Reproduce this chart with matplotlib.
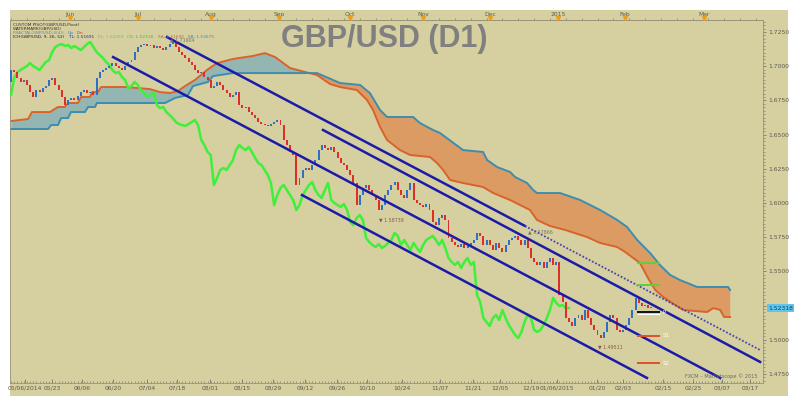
import numpy as np
import matplotlib
matplotlib.use("Agg")
import matplotlib.pyplot as plt
from matplotlib.patches import Rectangle
from matplotlib.transforms import blended_transform_factory

# daily GBP/USD closes (bar 0 = 05/06/2014, last bar = 02/10/2015)
closes = [
    1.6972, 1.6958, 1.6914, 1.6885, 1.6899, 1.6863, 1.6811, 1.6775, 1.6826, 1.6811,
    1.6841, 1.6855, 1.6899, 1.6914, 1.6863, 1.6826, 1.6775, 1.6716, 1.6753, 1.6768,
    1.6753, 1.6782, 1.6811, 1.6826, 1.6804, 1.6811, 1.6789, 1.6914, 1.6958, 1.6972,
    1.6987, 1.7001, 1.7023, 1.7001, 1.6987, 1.6972, 1.7001, 1.7031, 1.7045, 1.7104,
    1.7140, 1.7155, 1.7162, 1.7148, 1.7155, 1.7133, 1.7148, 1.7133, 1.7118, 1.7140,
    1.7162, 1.7177, 1.7140, 1.7104, 1.7082, 1.7060, 1.7031, 1.7009, 1.6972, 1.6950,
    1.6958, 1.6921, 1.6899, 1.6841, 1.6855, 1.6885, 1.6863, 1.6826, 1.6804, 1.6775,
    1.6789, 1.6811, 1.6716, 1.6694, 1.6702, 1.6665, 1.6643, 1.6621, 1.6592, 1.6577,
    1.6570, 1.6563, 1.6577, 1.6592, 1.6607, 1.6570, 1.6461, 1.6424, 1.6373, 1.6351,
    1.6132, 1.6183, 1.6241, 1.6256, 1.6241, 1.6278, 1.6314, 1.6387, 1.6424, 1.6402,
    1.6387, 1.6409, 1.6373, 1.6329, 1.6292, 1.6278, 1.6241, 1.6205, 1.6146, 1.5985,
    1.6058, 1.6110, 1.6132, 1.6095, 1.6058, 1.6022, 1.5949, 1.5985, 1.6058, 1.6095,
    1.6132, 1.6153, 1.6095, 1.6058, 1.6037, 1.6095, 1.6146, 1.6022, 1.6000, 1.5985,
    1.5971, 1.5993, 1.5949, 1.5861, 1.5839, 1.5890, 1.5912, 1.5876, 1.5744, 1.5715,
    1.5693, 1.5678, 1.5700, 1.5671, 1.5686, 1.5708, 1.5730, 1.5781, 1.5759, 1.5693,
    1.5730, 1.5693, 1.5656, 1.5708, 1.5671, 1.5642, 1.5693, 1.5730, 1.5744, 1.5759,
    1.5730, 1.5693, 1.5730, 1.5671, 1.5598, 1.5569, 1.5547, 1.5569, 1.5525, 1.5569,
    1.5598, 1.5547, 1.5569, 1.5327, 1.5276, 1.5159, 1.5130, 1.5101, 1.5159, 1.5181,
    1.5145, 1.5218, 1.5159, 1.5108, 1.5072, 1.5035, 1.5013, 1.5057, 1.5130, 1.5181,
    1.5159, 1.5072, 1.5057, 1.5072, 1.5108, 1.5159, 1.5218, 1.5306, 1.5269, 1.5247,
    1.5254, 1.5232, 1.5232,
]
first_open = 1.6885
last_price = 1.52318
chikou_shift = 26

# ichimoku cloud, already pushed forward; breakpoints as bar / price
span_a_bar = [0, 2.8, 5.4, 6.6, 12.3, 14.8, 17.0, 18.0, 21.1, 22.1, 24.9, 25.6, 27.4, 28.4,
              36.0, 43.8, 47.0, 50.2, 52.7, 54.9, 58.0, 61.8, 65.0, 70.0, 76.3, 80.1, 83.3,
              88.0, 92.7, 96.5, 100.6, 103.8, 109.1, 112.3, 114.2, 116.4, 118.6, 122.7,
              125.9, 132.2, 134.4, 136.3, 138.5, 142.6, 148.9, 152.1, 157.4, 163.7, 165.9,
              170.0, 174.8, 181.7, 185.8, 191.2, 193.7, 198.4, 200.9, 203.2, 205.7, 208.5,
              212.0, 219.6, 221.5, 223.7, 224.9, 226.8]
span_a = [1.6599, 1.6607, 1.6614, 1.6665, 1.6665, 1.6702, 1.6702, 1.6731, 1.6731, 1.6775,
          1.6775, 1.6811, 1.6811, 1.6848, 1.6848, 1.6833, 1.6811, 1.6804, 1.6819, 1.6855,
          1.6899, 1.6972, 1.7023, 1.7053, 1.7075, 1.7096, 1.7067, 1.6987, 1.6958, 1.6936,
          1.6870, 1.6848, 1.6826, 1.6753, 1.6680, 1.6556, 1.6461, 1.6387, 1.6351, 1.6336,
          1.6292, 1.6241, 1.6168, 1.6146, 1.6117, 1.6073, 1.6022, 1.5949, 1.5876, 1.5832,
          1.5803, 1.5751, 1.5708, 1.5678, 1.5642, 1.5561, 1.5452, 1.5364, 1.5313, 1.5269,
          1.5218, 1.5203, 1.5232, 1.5218, 1.5167, 1.5167]
span_b_bar = [0, 11.7, 12.6, 14.8, 15.8, 18.0, 18.9, 23.3, 24.3, 26.5, 27.1, 48.6, 51.7,
              55.8, 57.4, 62.1, 63.7, 70.0, 96.5, 103.8, 110.1, 113.2, 116.4, 118.6, 126.8,
              129.0, 133.1, 135.3, 142.6, 148.9, 150.2, 153.3, 157.4, 159.0, 162.8, 164.7,
              165.9, 173.2, 179.5, 185.8, 191.2, 194.3, 197.5, 201.6, 204.7, 207.9, 211.0,
              216.4, 226.2, 226.8]
span_b = [1.6541, 1.6541, 1.6570, 1.6570, 1.6621, 1.6621, 1.6665, 1.6665, 1.6702, 1.6702,
          1.6731, 1.6731, 1.6768, 1.6789, 1.6855, 1.6885, 1.6928, 1.6950, 1.6950, 1.6877,
          1.6863, 1.6804, 1.6680, 1.6629, 1.6629, 1.6585, 1.6534, 1.6512, 1.6387, 1.6373,
          1.6314, 1.6263, 1.6227, 1.6190, 1.6146, 1.6095, 1.6073, 1.6073, 1.6022, 1.5949,
          1.5876, 1.5825, 1.5730, 1.5634, 1.5547, 1.5474, 1.5437, 1.5386, 1.5386, 1.5364]

# hand drawn channel lines: start bar/price, end bar/price
chan_start_bar = [49.2, 32.2, 98.4, 91.8]
chan_start_price = [1.7213, 1.7067, 1.6534, 1.6058]
chan_end_bar = [236.3, 223.7, 236.3, 200.6]
chan_end_price = [1.4925, 1.4721, 1.4838, 1.4721]
dotted_from_bar = 162.1  # first line turns dotted here

# pivot levels on the right
pivot_names = ["", "", "P", "S1", "S2"]
pivot_prices = [1.5561, 1.5401, 1.5203, 1.5028, 1.4830]
pivot_colors = ["#5fd13a", "#5fd13a", "#111111", "#e0502a", "#e0502a"]

# fractal labels
frac_bar = [50.2, 116.0, 163.0, 185.0]
frac_value = [1.71904, 1.58739, 1.57866, 1.49511]
frac_up = [True, False, True, False]

date_labels = ["05/06/2014", "05/23", "06/06", "06/20", "07/04", "07/18", "08/01", "08/15",
               "08/29", "09/12", "09/26", "10/10", "10/24", "11/07", "11/21", "12/05",
               "12/19", "01/06/2015", "01/20", "02/03", "02/15", "02/25", "03/07", "03/17"]
date_ticks = [4.4, 12.9, 22.4, 32.2, 42.9, 52.4, 62.8, 72.9, 82.6, 92.7, 102.8, 112.3,
              123.3, 135.3, 145.7, 154.3, 164.0, 172.2, 184.9, 193.1, 205.7, 215.1, 224.3, 233.1]
month_labels = ["Jun", "Jul", "Aug", "Sep", "Oct", "Nov", "Dec", "2015", "Feb", "Mar"]
month_ticks = [18.6, 40.1, 63.1, 84.5, 106.9, 130.0, 151.1, 172.6, 193.7, 218.6]

BG = "#d6cfa0"
RED = "#dc2e2a"
BLUE = "#2f6fc4"
CHAN = "#1b1ba8"
GRAY = "#5a5a50"

W, H = 801, 399
fig = plt.figure(figsize=(W / 100, H / 100), dpi=100)
fig.patch.set_facecolor("white")
fig.add_artist(Rectangle((10 / W, 3 / H), 778 / W, 386 / H, transform=fig.transFigure,
                         facecolor=BG, edgecolor="none", zorder=0))

ax = fig.add_axes([10 / W, (H - 383) / H, 753 / W, 363 / H])
ax.set_facecolor(BG)
ax.set_xlim(-0.32, 237.2)
ax.set_ylim(1.4684, 1.7338)

# cloud
grid = np.arange(0, 226.8, 0.1)
a = np.interp(grid, span_a_bar, span_a)
b = np.interp(grid, span_b_bar, span_b)
ax.fill_between(grid, a, b, where=a >= b, interpolate=True, color="#93b6b3", lw=0, zorder=1)
ax.fill_between(grid, a, b, where=a < b, interpolate=True, color="#dc9b63", lw=0, zorder=1)
ax.plot(span_a_bar, span_a, color="#d9632b", lw=1.4, zorder=2)
ax.plot(span_b_bar, span_b, color="#3c8db0", lw=1.4, zorder=2)

# candles
c = np.array(closes)
o = np.r_[first_open, c[:-1]]
bars = np.arange(len(c))
ax.bar(bars, np.maximum(np.abs(c - o), 0.0005), bottom=np.minimum(o, c), width=0.62,
       color=np.where(c >= o, BLUE, RED), linewidth=0, zorder=4)

# lagging span
ax.plot(bars - chikou_shift, c, color="#3ff03a", lw=1.8, zorder=3)

# channels
for i in range(len(chan_start_bar)):
    x0, x1 = chan_start_bar[i], chan_end_bar[i]
    y0, y1 = chan_start_price[i], chan_end_price[i]
    if i == 0:
        yb = np.interp(dotted_from_bar, [x0, x1], [y0, y1])
        ax.plot([x0, dotted_from_bar], [y0, yb], color=CHAN, lw=1.8, zorder=5)
        ax.plot([dotted_from_bar, x1], [yb, y1], color="#4646b0", lw=1.3,
                ls=(0, (1, 1)), zorder=5)
    else:
        ax.plot([x0, x1], [y0, y1], color=CHAN, lw=1.8, zorder=5)

# pivots
ax.hlines(pivot_prices, 197.5, 204.7, colors=pivot_colors, lw=1.4, zorder=6)
ax.hlines(pivot_prices[2] - 0.0018, 197.5, 204.7, colors="white", lw=0.8, zorder=6)
for name, p in zip(pivot_names, pivot_prices):
    if name:
        ax.text(205.4, p, name, color="white", fontsize=4, va="center", zorder=6)

# fractal labels
for xb, v, up in zip(frac_bar, frac_value, frac_up):
    mark = "\u25b2" if up else "\u25bc"
    ax.text(xb, v, mark + " %.5f" % v, fontsize=3.4, color="#7a7468" if up else "#8a5a48",
            va="center", ha="left", zorder=6)

ax.text(235.5, 1.4735, "FXCM \u2013 Marketscope \u00a9 2015", fontsize=3.6, color="#6a6a60",
        ha="right", va="center", zorder=6)

# legend lines at the top left
def colored_line(y, parts):
    t = ax.text(0.004, y, parts[0][0], color=parts[0][1], fontsize=3.1,
                transform=ax.transAxes, va="bottom", zorder=7)
    for s, col in parts[1:]:
        t = ax.annotate(s, xy=(1, 0), xycoords=t, va="bottom", color=col, fontsize=3.1, zorder=7)

colored_line(0.982, [("CUSTOM PIVOT(GBP/USD,Pivot)", "#333333")])
colored_line(0.971, [("WATERMARK(GBP/USD)", "#333333")])
colored_line(0.960, [("FRACTAL(GBP/USD,4(4)) - ", "#5a86b8"), ("Up", BLUE), ("  Dn", RED)])
colored_line(0.949, [("ICH(GBP/USD, 9, 26, 52)   ", "#222222"), ("TL: 1.51691   ", "#2a2a8a"),
                     ("KL: 1.52059   ", "#6fb8a0"), ("CS: 1.52318   ", "#3fc03a"),
                     ("SA: 1.51699   ", "#d9632b"), ("SB: 1.53675", "#3c8db0")])

fig.text(384 / W, 1 - 39 / H, "GBP/USD (D1)", ha="center", va="center", fontsize=22,
         fontweight="bold", family="Liberation Sans", color="#808080")

# axes decoration
for sp in ax.spines.values():
    sp.set_color("#9a9478")
    sp.set_linewidth(0.6)

ax.set_xticks(date_ticks, date_labels)
ax.set_xticks(np.arange(0, 237), minor=True)
ax.tick_params(axis="x", which="major", direction="in", length=3, width=0.5, color="#6a6a60",
               labelsize=4.3, labelcolor=GRAY, pad=2)
ax.tick_params(axis="x", which="minor", direction="in", length=1.5, width=0.4, color="#6a6a60")

ax.yaxis.tick_right()
yt = np.arange(1.475, 1.7251, 0.025)
ax.set_yticks(yt, ["" if abs(v - 1.525) < 1e-6 else "%.4f" % v for v in yt])
ax.set_yticks(np.arange(1.47, 1.7338, 0.0025), minor=True)
ax.tick_params(axis="y", which="major", direction="out", length=2.5, width=0.5, color="#6a6a60",
               labelsize=4.3, labelcolor=GRAY, pad=1.5)
ax.tick_params(axis="y", which="minor", direction="out", length=1.2, width=0.4, color="#6a6a60")
ax.text(1.0065, last_price, "%.5f" % last_price, fontsize=4.3, color="#1a3a5a",
        transform=blended_transform_factory(ax.transAxes, ax.transData), va="center",
        bbox=dict(facecolor="#5cc6ec", edgecolor="none", pad=0.8), clip_on=False)

sec = ax.secondary_xaxis("top")
sec.set_xticks(month_ticks, month_labels)
sec.set_xticks(np.arange(0, 237, 5), minor=True)
sec.tick_params(which="major", length=0, pad=2.5, labelsize=4.3, labelcolor=GRAY)
sec.tick_params(which="minor", direction="out", length=1.5, width=0.4, color="#6a6a60")
sec.spines["top"].set_color("#9a9478")
sec.spines["top"].set_linewidth(0.6)
ax.plot(month_ticks, [1.0 + 1.5 / 363] * len(month_ticks), transform=ax.get_xaxis_transform(),
        ls="none", marker="v", ms=3, color="#e8a020", clip_on=False, zorder=8)

fig.savefig("out.png", dpi=100)
